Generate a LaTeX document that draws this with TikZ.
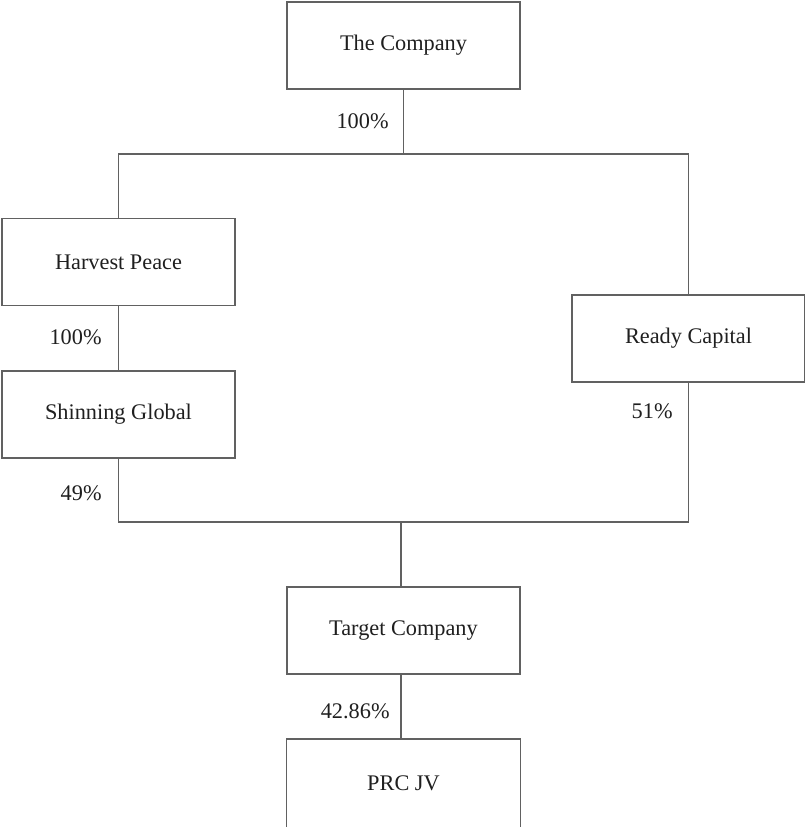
\documentclass[tikz,border=0pt]{standalone}
\usepackage{fontspec}
\setmainfont{Liberation Serif}
\begin{document}
\begin{tikzpicture}[x=0.5pt,y=-0.5pt,
  line/.style={draw=black!62,line width=0.55pt},
  entity/.style={line,rectangle,inner sep=0pt,minimum width=116.5pt,minimum height=43.5pt,text=black!88,font=\fontsize{11.15}{13}\selectfont},
  pct/.style={anchor=east,inner sep=0pt,text=black!88,font=\fontsize{11.15}{13}\selectfont}]
\useasboundingbox (0,0) rectangle (805,827);
\node[entity] (company) at (403.5,45.5) {The Company};
\node[entity] (harvest) at (118.5,262) {Harvest Peace};
\node[entity] (shinning) at (118.5,414.5) {Shinning Global};
\node[entity] (ready) at (688.5,338.5) {Ready Capital};
\node[entity] (target) at (403.5,630.5) {Target Company};
\node[entity,draw=none] (prc) at (403.5,783) {PRC JV};
\draw[line] (prc.south west) -- (prc.north west) -- (prc.north east) -- (prc.south east);
\coordinate (jt) at (403.5,154);
\coordinate (jb) at (401,522);
% top junction
\draw[line] (company.south) -- (jt);
\draw[line] (harvest.north) -- (harvest.north |- jt) -- (ready.north |- jt) -- (ready.north);
\draw[line] (harvest.south) -- (shinning.north);
% bottom junction
\draw[line] (shinning.south) -- (shinning.south |- jb) -- (ready.south |- jb) -- (ready.south);
\draw[line] (jb) -- (jb |- target.north);
\draw[line] (jb |- target.south) -- (jb |- prc.north);
% labels
\node[pct] (l1) at (389,121) {100\%};
\node[pct] (l2) at (102,337) {100\%};
\node[pct] (l3) at (673,411) {51\%};
\node[pct] (l4) at (102,493) {49\%};
\node[pct] (l5) at (390,711) {42.86\%};
\end{tikzpicture}
\end{document}
